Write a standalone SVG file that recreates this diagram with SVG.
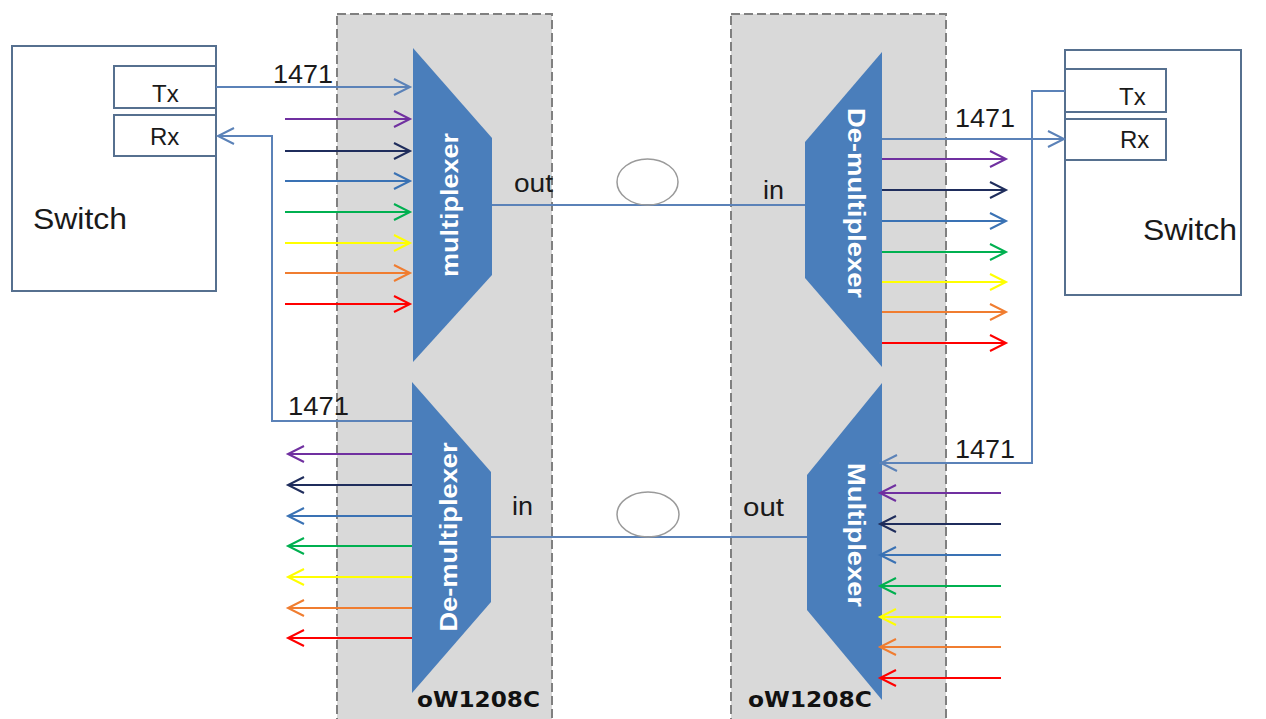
<svg xmlns="http://www.w3.org/2000/svg" width="1266" height="719" viewBox="0 0 1266 719">
<style>
.panel{fill:#d9d9d9;stroke:#808080;stroke-width:2;stroke-dasharray:9 4}
.box{fill:#ffffff;stroke:#56708f;stroke-width:2}
.dev{fill:#4a7ebb}
.dlab{font-family:"Liberation Sans",Arial,sans-serif;font-weight:bold;font-size:24px;fill:#ffffff;text-anchor:middle}
.lab{font-family:"Liberation Sans",Arial,sans-serif;fill:#1a1a1a}
.model{font-family:"DejaVu Sans",Verdana,sans-serif;font-weight:bold;font-size:22px;fill:#111111}
.fib{fill:none;stroke:#5b82b8;stroke-width:2}
.loop{fill:none;stroke:#9a9a9a;stroke-width:1.5}
.w{fill:none;stroke-width:2}
</style>
<defs>
<marker id="aB" markerUnits="userSpaceOnUse" markerWidth="20" markerHeight="20" refX="16" refY="8" orient="auto" overflow="visible"><path d="M0,0 L16,8 L0,16" fill="none" stroke="#5b82b8" stroke-width="2"/></marker>
<marker id="aP" markerUnits="userSpaceOnUse" markerWidth="20" markerHeight="20" refX="16" refY="8" orient="auto" overflow="visible"><path d="M0,0 L16,8 L0,16" fill="none" stroke="#7030a0" stroke-width="2"/></marker>
<marker id="aN" markerUnits="userSpaceOnUse" markerWidth="20" markerHeight="20" refX="16" refY="8" orient="auto" overflow="visible"><path d="M0,0 L16,8 L0,16" fill="none" stroke="#1f2d5c" stroke-width="2"/></marker>
<marker id="aL" markerUnits="userSpaceOnUse" markerWidth="20" markerHeight="20" refX="16" refY="8" orient="auto" overflow="visible"><path d="M0,0 L16,8 L0,16" fill="none" stroke="#3a72b4" stroke-width="2"/></marker>
<marker id="aG" markerUnits="userSpaceOnUse" markerWidth="20" markerHeight="20" refX="16" refY="8" orient="auto" overflow="visible"><path d="M0,0 L16,8 L0,16" fill="none" stroke="#00b050" stroke-width="2"/></marker>
<marker id="aY" markerUnits="userSpaceOnUse" markerWidth="20" markerHeight="20" refX="16" refY="8" orient="auto" overflow="visible"><path d="M0,0 L16,8 L0,16" fill="none" stroke="#ffff00" stroke-width="2"/></marker>
<marker id="aO" markerUnits="userSpaceOnUse" markerWidth="20" markerHeight="20" refX="16" refY="8" orient="auto" overflow="visible"><path d="M0,0 L16,8 L0,16" fill="none" stroke="#f07d30" stroke-width="2"/></marker>
<marker id="aR" markerUnits="userSpaceOnUse" markerWidth="20" markerHeight="20" refX="16" refY="8" orient="auto" overflow="visible"><path d="M0,0 L16,8 L0,16" fill="none" stroke="#ff0000" stroke-width="2"/></marker>
</defs>
<rect width="1266" height="719" fill="#ffffff"/>

<g id="panel-left">
<rect class="panel" x="337" y="14" width="215" height="720"/>
<text class="model" x="417" y="707" textLength="123" lengthAdjust="spacingAndGlyphs">oW1208C</text>
</g>
<g id="panel-right">
<rect class="panel" x="731" y="14" width="215" height="720"/>
<text class="model" x="748" y="707" textLength="124" lengthAdjust="spacingAndGlyphs">oW1208C</text>
</g>

<g id="switch-left">
<rect class="box" x="12" y="46" width="204" height="245"/>
<text class="lab" x="33" y="229" font-size="30" textLength="94" lengthAdjust="spacingAndGlyphs">Switch</text>
</g>
<g id="tx-left">
<rect class="box" x="114" y="66" width="102" height="42"/>
<text class="lab" x="152" y="102" font-size="24">Tx</text>
</g>
<g id="rx-left">
<rect class="box" x="114" y="115" width="102" height="41"/>
<text class="lab" x="150" y="145" font-size="24">Rx</text>
</g>

<g id="switch-right">
<rect class="box" x="1065" y="50" width="176" height="245"/>
<text class="lab" x="1143" y="240" font-size="30" textLength="94" lengthAdjust="spacingAndGlyphs">Switch</text>
</g>
<g id="tx-right">
<rect class="box" x="1065" y="69" width="101" height="43"/>
<text class="lab" x="1119" y="105" font-size="24">Tx</text>
</g>
<g id="rx-right">
<rect class="box" x="1065" y="119" width="101" height="41"/>
<text class="lab" x="1120" y="148" font-size="24">Rx</text>
</g>

<g id="mux-left">
<polygon class="dev" points="413,48 492,138 492,275 413,362"/>
<text class="dlab" transform="translate(458,205) rotate(-90)" textLength="144" lengthAdjust="spacingAndGlyphs">multiplexer</text>
</g>
<g id="demux-left">
<polygon class="dev" points="412,382 491,472 491,602 412,693"/>
<text class="dlab" transform="translate(457,537) rotate(-90)" textLength="189" lengthAdjust="spacingAndGlyphs">De-multiplexer</text>
</g>
<g id="demux-right">
<polygon class="dev" points="882,52 805,142 805,278 882,367"/>
<text class="dlab" transform="translate(848,203) rotate(90)" textLength="190" lengthAdjust="spacingAndGlyphs">De-multiplexer</text>
</g>
<g id="mux-right">
<polygon class="dev" points="882,383 807,475 807,610 882,700"/>
<text class="dlab" transform="translate(848,535) rotate(90)" textLength="144" lengthAdjust="spacingAndGlyphs">Multiplexer</text>
</g>

<g id="connectors">
<line class="fib" x1="492" y1="205" x2="805" y2="205"/>
<line class="fib" x1="491" y1="537" x2="807" y2="537"/>
<ellipse class="loop" cx="647.5" cy="182" rx="30.5" ry="23"/>
<ellipse class="loop" cx="648" cy="514.5" rx="31" ry="22.5"/>
<line class="fib" x1="216" y1="87" x2="410" y2="87" marker-end="url(#aB)"/>
<polyline class="fib" points="412,421 272,421 272,136 218,136" marker-end="url(#aB)"/>
<line class="fib" x1="882" y1="139" x2="1064" y2="139" marker-end="url(#aB)"/>
<polyline class="fib" points="1065,91 1032,91 1032,463 881,463" marker-end="url(#aB)"/>
<line class="w" stroke="#7030a0" x1="285" y1="119" x2="410" y2="119" marker-end="url(#aP)"/>
<line class="w" stroke="#1f2d5c" x1="285" y1="151" x2="410" y2="151" marker-end="url(#aN)"/>
<line class="w" stroke="#3a72b4" x1="285" y1="181" x2="410" y2="181" marker-end="url(#aL)"/>
<line class="w" stroke="#00b050" x1="285" y1="212" x2="410" y2="212" marker-end="url(#aG)"/>
<line class="w" stroke="#ffff00" x1="285" y1="243" x2="410" y2="243" marker-end="url(#aY)"/>
<line class="w" stroke="#f07d30" x1="285" y1="273" x2="410" y2="273" marker-end="url(#aO)"/>
<line class="w" stroke="#ff0000" x1="285" y1="304" x2="410" y2="304" marker-end="url(#aR)"/>
<line class="w" stroke="#7030a0" x1="412" y1="454" x2="288" y2="454" marker-end="url(#aP)"/>
<line class="w" stroke="#1f2d5c" x1="412" y1="485" x2="288" y2="485" marker-end="url(#aN)"/>
<line class="w" stroke="#3a72b4" x1="412" y1="516" x2="288" y2="516" marker-end="url(#aL)"/>
<line class="w" stroke="#00b050" x1="412" y1="546" x2="288" y2="546" marker-end="url(#aG)"/>
<line class="w" stroke="#ffff00" x1="412" y1="577" x2="288" y2="577" marker-end="url(#aY)"/>
<line class="w" stroke="#f07d30" x1="412" y1="608" x2="288" y2="608" marker-end="url(#aO)"/>
<line class="w" stroke="#ff0000" x1="412" y1="638" x2="288" y2="638" marker-end="url(#aR)"/>
<line class="w" stroke="#7030a0" x1="882" y1="159" x2="1006" y2="159" marker-end="url(#aP)"/>
<line class="w" stroke="#1f2d5c" x1="882" y1="190" x2="1006" y2="190" marker-end="url(#aN)"/>
<line class="w" stroke="#3a72b4" x1="882" y1="221" x2="1006" y2="221" marker-end="url(#aL)"/>
<line class="w" stroke="#00b050" x1="882" y1="252" x2="1006" y2="252" marker-end="url(#aG)"/>
<line class="w" stroke="#ffff00" x1="882" y1="282" x2="1006" y2="282" marker-end="url(#aY)"/>
<line class="w" stroke="#f07d30" x1="882" y1="312" x2="1006" y2="312" marker-end="url(#aO)"/>
<line class="w" stroke="#ff0000" x1="882" y1="343" x2="1006" y2="343" marker-end="url(#aR)"/>
<line class="w" stroke="#7030a0" x1="1001" y1="493" x2="880" y2="493" marker-end="url(#aP)"/>
<line class="w" stroke="#1f2d5c" x1="1001" y1="524" x2="880" y2="524" marker-end="url(#aN)"/>
<line class="w" stroke="#3a72b4" x1="1001" y1="555" x2="880" y2="555" marker-end="url(#aL)"/>
<line class="w" stroke="#00b050" x1="1001" y1="586" x2="880" y2="586" marker-end="url(#aG)"/>
<line class="w" stroke="#ffff00" x1="1001" y1="617" x2="880" y2="617" marker-end="url(#aY)"/>
<line class="w" stroke="#f07d30" x1="1001" y1="647" x2="880" y2="647" marker-end="url(#aO)"/>
<line class="w" stroke="#ff0000" x1="1001" y1="678" x2="880" y2="678" marker-end="url(#aR)"/>
<text class="lab" x="273" y="83" font-size="25" textLength="60" lengthAdjust="spacingAndGlyphs">1471</text>
<text class="lab" x="288" y="415" font-size="25" textLength="61" lengthAdjust="spacingAndGlyphs">1471</text>
<text class="lab" x="955" y="127" font-size="25" textLength="60" lengthAdjust="spacingAndGlyphs">1471</text>
<text class="lab" x="955" y="458" font-size="25" textLength="60" lengthAdjust="spacingAndGlyphs">1471</text>
<text class="lab" x="514" y="192" font-size="26" textLength="39" lengthAdjust="spacingAndGlyphs">out</text>
<text class="lab" x="763" y="199" font-size="26" textLength="21" lengthAdjust="spacingAndGlyphs">in</text>
<text class="lab" x="512" y="515" font-size="26" textLength="21" lengthAdjust="spacingAndGlyphs">in</text>
<text class="lab" x="743" y="516" font-size="26" textLength="41" lengthAdjust="spacingAndGlyphs">out</text>
</g>
</svg>
